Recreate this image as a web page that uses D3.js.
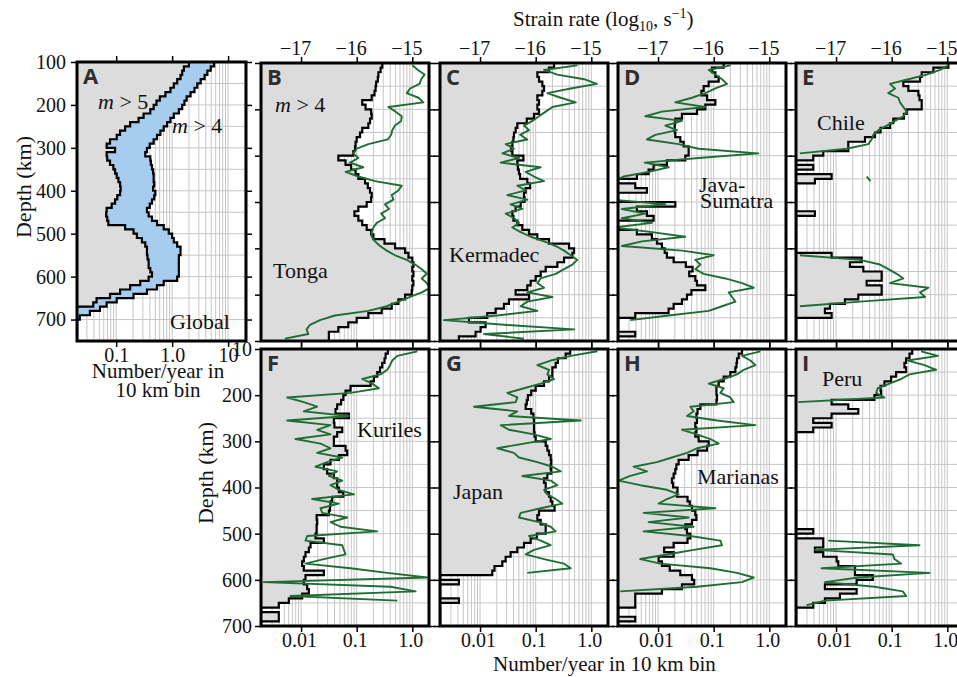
<!DOCTYPE html>
<html>
<head>
<meta charset="utf-8">
<script src="https://cdn.jsdelivr.net/npm/d3@7"></script>
<style>
  body { margin: 0; background: #fff; }
  svg { display: block; }
  text { font-family: "Liberation Serif", "Times New Roman", serif; fill: #111; }
</style>
</head>
<body>
<div id="chart"></div>
<script>
// ---- data: log10(number / year) per 10 km bin (null = empty bin) and log10 strain rate (s^-1) ----
const binTops = d3.range(100, 700, 10);        // panels B–I
const binTopsGlobal = d3.range(100, 750, 10);  // panel A
const strainDepths = binTops.map(d => d + 5);

const depthTicks = [100, 200, 300, 400, 500, 600, 700];
const depthLabelsTop = ["100", "200", "300", "400", "500", "600", "700"];
const depthLabelsLower = ["10", "200", "300", "400", "500", "600", "700"];
const rateTicks = [-2, -1, 0];
const rateTickLabels = ["0.01", "0.1", "1.0"];
const rateTicksGlobal = [-1, 0, 1];
const rateTickLabelsGlobal = ["0.1", "1.0", "10"];
const strainTicks = [-17, -16, -15];
const strainTickLabels = ["\u221217", "\u221216", "\u221215"];

const globalM5 = [
  0.30,0.21,0.18,0.15,0.09,0.03,-0.03,-0.12,-0.22,-0.28,
  -0.33,-0.39,-0.51,-0.60,-0.75,-0.84,-0.93,-0.99,-1.11,-1.17,
  -1.02,-1.17,-1.16,-1.11,-1.05,-1.02,-0.99,-0.96,-0.93,-0.92,
  -0.93,-0.98,-1.02,-1.08,-1.17,-1.18,-1.16,-1.14,-0.84,-0.69,
  -0.63,-0.54,-0.48,-0.45,-0.45,-0.44,-0.42,-0.42,-0.39,-0.36,
  -0.42,-0.57,-0.75,-0.93,-1.11,-1.35,-1.41,null,null,null,
  null,null,null,null,null];
const globalM4 = [
  0.75,0.69,0.63,0.58,0.51,0.45,0.40,0.33,0.26,0.22,
  0.18,0.12,0.03,-0.03,-0.09,-0.15,-0.21,-0.27,-0.33,-0.40,
  -0.45,-0.48,-0.39,-0.38,-0.36,-0.34,-0.33,-0.33,-0.32,-0.34,
  -0.30,-0.32,-0.36,-0.40,-0.45,-0.42,-0.36,-0.27,-0.15,-0.06,
  0.00,0.03,0.09,0.15,0.15,0.12,0.12,0.12,0.12,0.12,
  0.09,-0.15,-0.27,-0.45,-0.69,-0.99,-1.17,-1.29,-1.47,-1.65,
  null,null,null,null,null];

const tongaRate = [
  -0.54,-0.57,-0.61,-0.62,-0.65,-0.66,-0.68,-0.73,-0.90,-0.84,
  -0.74,-0.73,-0.76,-0.79,-0.90,-0.94,-1.00,-1.02,-1.03,-1.06,
  -1.33,-1.20,-1.10,-1.02,-0.97,-0.85,-0.80,-0.76,-0.73,-0.74,
  -0.82,-0.97,-1.04,-0.97,-0.90,-0.82,-0.74,-0.70,-0.50,-0.31,
  -0.13,-0.07,0.00,0.02,0.00,0.02,0.00,0.02,0.00,-0.01,
  -0.13,-0.25,-0.37,-0.55,-0.79,-1.00,-1.15,-1.33,-1.50,-1.50];
const tongaStrain = [
  -15.00,-14.90,-14.78,-14.84,-14.87,-15.04,-15.10,-14.89,-14.80,-15.43,
  -15.30,-15.19,-15.20,-15.31,-15.36,-15.38,-15.44,-15.79,-16.00,-16.06,
  -15.97,-16.12,-15.88,-16.20,-15.97,-15.67,-15.19,-15.25,-15.37,-15.34,
  -15.49,-15.42,-15.56,-15.49,-15.64,-15.70,-15.73,-15.73,-15.67,-15.58,
  -15.46,-15.31,-15.10,-14.95,-14.83,-14.74,-14.83,-14.74,-14.68,-14.83,
  -15.04,-15.25,-15.46,-15.79,-16.39,-16.66,-16.84,-16.90,-16.87,-17.29];

const kermadecRate = [
  -0.67,-0.76,-0.97,-0.94,-0.88,-0.85,-0.88,-0.97,-0.94,-0.97,
  -0.94,-1.03,-1.16,-1.33,-1.36,-1.39,-1.40,-1.42,-1.44,-1.42,
  -1.22,-1.33,-1.32,-1.30,-1.28,-1.15,-1.10,-1.18,-1.21,-1.20,
  -1.27,-1.36,-1.42,-1.40,-1.33,-1.24,-1.12,-0.97,-0.76,-0.40,
  -0.31,-0.34,-0.49,-0.61,-0.82,-0.91,-1.00,-1.09,-1.15,-1.36,
  -1.12,-1.48,-1.57,-1.72,-1.87,-2.20,-1.90,-1.99,-2.08,-2.38];
const kermadecStrain = [
  -15.25,-15.85,-15.61,-15.13,-14.90,-15.37,-15.79,-15.55,-15.28,-15.70,
  -15.82,-15.94,-16.06,-16.21,-16.12,-16.28,-16.15,-16.54,-16.39,-16.60,
  -16.30,-16.63,-15.91,-16.18,-16.03,-15.85,-16.33,-16.18,-16.51,-16.15,
  -16.45,-16.24,-16.54,-16.39,-16.30,-16.42,-16.27,-16.09,-15.85,-15.64,
  -15.49,-15.37,-15.25,-15.34,-15.49,-15.64,-15.91,-15.97,-15.85,-16.15,
  -15.70,-16.15,-16.27,-15.97,-16.69,-17.65,-16.57,-15.31,-16.93,-16.21];

const javaRate = [
  -0.82,-1.03,-0.97,-0.91,-1.09,-1.18,-1.22,-1.12,-0.97,-1.15,
  -1.30,-1.57,-1.69,-1.70,-1.70,-1.69,-1.60,-1.54,-1.45,-1.45,
  -1.51,-1.84,-2.08,-2.17,-2.38,null,-2.41,-2.20,null,null,
  -1.69,-2.38,-2.20,-2.08,null,null,-2.38,-2.11,-2.02,-1.93,
  -1.88,-1.84,-1.72,-1.50,-1.38,-1.44,-1.33,-1.30,-1.15,-1.40,
  -1.48,-1.57,-1.72,-1.81,-2.41,null,null,null,-2.41,null];
const javaStrain = [
  -15.70,-16.09,-15.97,-15.85,-15.76,-15.97,-16.15,-16.39,-16.69,-16.15,
  -16.93,-17.23,-16.57,-16.87,-16.66,-17.05,-17.20,-16.63,-16.27,-15.20,
  -16.27,-17.24,-16.81,-17.17,-17.62,-17.80,-17.80,-17.80,-17.80,-17.80,
  -16.87,-17.65,-17.23,-17.65,-17.11,-17.80,-17.11,-16.51,-17.29,-17.65,
  -16.57,-16.00,-16.33,-16.24,-16.33,-16.18,-15.79,-15.49,-15.28,-15.73,
  -15.67,-15.61,-15.85,-16.09,-16.81,-17.50,null,null,null,null];

const chileRate = [
  0.02,-0.25,-0.46,-0.49,-0.79,-0.70,-0.52,-0.50,-0.46,-0.46,
  -0.73,-0.78,-0.97,-1.03,-1.20,-1.30,-1.48,-1.78,-1.78,-2.23,
  -2.41,null,-2.41,null,-2.08,-2.38,null,null,null,null,
  null,null,-2.38,null,null,null,null,null,null,null,
  null,-2.08,-1.54,-1.75,-1.51,-1.18,-1.18,-1.45,-1.18,-1.18,
  -1.60,-1.84,-2.11,-2.20,-2.08,null,null,null,null,null];
const chileStrain = [
  -14.98,-15.13,-15.37,-15.70,-16.03,-15.94,-16.06,-15.88,-15.85,-15.79,
  -15.73,-15.79,-15.94,-16.09,-16.24,-16.33,-16.36,-16.42,-16.81,-17.65,
  null,null,null,null,-16.45,-16.38,null,null,null,null,
  null,null,null,null,null,null,null,null,null,null,
  null,-17.65,-16.57,-16.21,-16.06,-15.91,-15.79,-16.03,-15.34,-15.49,
  -15.40,-16.57,-17.65,null,null,null,null,null,null,null];

const kurilesRate = [
  -0.44,-0.48,-0.50,-0.54,-0.58,-0.63,-0.69,-0.75,-1.11,-1.20,
  -1.24,-1.28,-1.35,-1.38,-1.14,-1.41,-1.40,-1.26,-1.35,-1.41,
  -1.41,-1.20,-1.17,-1.32,-1.47,-1.59,-1.53,-1.41,-1.35,-1.35,
  -1.32,-1.24,-1.44,-1.47,-1.48,-1.50,-1.72,-1.71,-1.72,-1.72,
  -1.74,-1.59,-1.83,-1.86,-1.92,-1.95,-1.98,-1.95,-1.59,-1.92,
  -1.95,-1.89,-1.86,-1.98,-2.22,-2.40,null,-2.40,-2.40,null];
const kurilesStrain = [
  -14.91,-15.27,-15.36,-15.40,-15.45,-15.57,-15.90,-15.72,-15.60,-16.11,
  -17.25,-16.95,-16.71,-16.95,-16.14,-17.25,-16.47,-16.71,-16.47,-17.10,
  -16.65,-16.47,-16.71,-16.26,-16.53,-16.74,-16.35,-16.50,-16.26,-16.47,
  -16.32,-16.05,-16.80,-16.32,-16.65,-16.62,-16.17,-16.47,-16.29,-15.63,
  -16.89,-16.92,-16.26,-16.23,-16.20,-16.59,-16.92,-16.11,-15.45,-14.73,
  -17.67,-15.39,-14.94,-17.19,-15.27,null,null,null,null,null];

const japanRate = [
  -0.38,-0.46,-0.60,-0.64,-0.70,-0.70,-0.76,-0.85,-1.00,-1.08,
  -1.14,-1.16,-1.18,-1.08,-1.04,-1.03,-1.03,-1.03,-1.02,-1.00,
  -0.82,-0.79,-0.76,-0.73,-0.72,-0.73,-0.72,-0.79,-0.85,-0.82,
  -0.82,-0.76,-0.73,-0.70,-0.66,-0.94,-0.97,-0.91,-0.82,-0.82,
  -0.98,-1.09,-1.21,-1.33,-1.45,-1.54,-1.60,-1.74,-1.78,null,
  -2.38,null,null,null,-2.38,null,null,null,null,null];
const japanStrain = [
  -14.89,-15.37,-15.73,-15.97,-15.76,-15.79,-15.67,-15.91,-16.21,-16.51,
  -16.33,-16.36,-17.11,-16.33,-16.48,-15.19,-16.63,-16.48,-16.03,-15.73,
  -16.21,-16.69,-16.39,-16.30,-15.97,-15.70,-15.55,-16.24,-15.73,-15.61,
  -15.85,-15.79,-15.64,-15.52,-15.91,-16.27,-16.30,-15.94,-15.73,-15.64,
  -16.12,-15.91,-15.73,-16.03,-16.18,-15.85,-15.49,-15.37,-16.15,null,
  null,null,null,null,null,null,null,null,null,null];

const marianasRate = [
  -0.49,-0.55,-0.58,-0.59,-0.61,-0.70,-0.82,-0.91,-0.95,-0.95,
  -0.94,-0.95,-1.24,-1.29,-1.31,-1.30,-1.33,-1.31,-1.33,-1.27,
  -1.09,-1.12,-1.29,-1.45,-1.63,-1.67,-1.69,-1.72,-1.75,-1.73,
  -1.65,-1.66,-1.47,-1.43,-1.39,-1.33,-1.31,-1.39,-1.51,-1.48,
  -1.42,-1.47,-1.72,-1.89,-1.72,-1.99,-1.93,-1.79,-1.60,-1.39,
  -1.35,-1.57,-1.93,-2.41,-2.41,-2.41,null,null,-2.41,null];
const marianasStrain = [
  -15.16,-15.49,-15.34,-15.25,-15.46,-15.58,-15.82,-16.09,-15.82,-15.88,
  -15.70,-15.64,-16.42,-16.36,-16.48,-15.94,-15.25,-16.57,-16.30,-16.06,
  -15.91,-16.30,-16.48,-16.75,-17.02,-17.44,-17.20,-17.50,-17.71,-17.32,
  -16.84,-16.63,-16.84,-16.99,-15.97,-17.26,-16.45,-17.17,-16.36,-17.26,
  -16.42,-15.88,-15.85,-16.36,-16.84,-17.32,-16.96,-16.06,-15.58,-15.28,
  -15.49,-16.30,-17.68,null,null,null,null,null,null,null];

const peruRate = [
  -0.63,-0.68,-0.74,-0.77,-0.74,-0.92,-1.01,-1.13,-1.20,-1.19,
  -1.31,-2.08,-1.78,-1.60,-2.08,-2.41,-2.08,-2.41,null,null,
  null,null,null,null,null,null,null,null,null,null,
  null,null,null,null,null,null,null,null,null,-2.41,
  null,-2.23,-2.23,-2.38,-2.23,-1.99,-1.96,-1.66,-1.66,-1.34,
  -1.63,-2.20,-1.63,-1.93,-2.20,-2.41,null,null,null,null];
const peruStrain = [
  -15.47,-15.17,-15.71,-15.41,-15.20,-15.68,-15.83,-16.04,-16.25,-16.28,
  -16.13,-17.68,null,null,null,null,null,null,null,null,
  null,null,null,null,null,null,null,null,null,null,
  null,null,null,null,null,null,null,null,null,null,
  null,-17.14,-15.50,-17.38,-15.98,-15.95,-15.83,-17.26,-15.32,-16.60,
  -17.20,-16.31,-15.80,-15.74,-17.20,-17.53,null,null,null,null];

// ---- layout ----
const W = 957, H = 677;
const PW = 168;
const rateDomain = [-2.72, 0.30];
const rateDomainGlobal = [-1.70, 1.32];

const panels = [
  { letter: "B", rate: tongaRate, strain: tongaStrain, x: 261, y: 63, row: 0,
    labels: [{ t: "Tonga", dx: 12, dy: 215 }], mlabel: { dx: 14, dy: 49 } },
  { letter: "C", rate: kermadecRate, strain: kermadecStrain, x: 440, y: 63, row: 0,
    labels: [{ t: "Kermadec", dx: 9, dy: 199 }] },
  { letter: "D", rate: javaRate, strain: javaStrain, x: 618, y: 63, row: 0,
    labels: [{ t: "Java-", dx: 81, dy: 129 }, { t: "Sumatra", dx: 82, dy: 145 }] },
  { letter: "E", rate: chileRate, strain: chileStrain, x: 796, y: 63, row: 0,
    labels: [{ t: "Chile", dx: 21, dy: 67 }] },
  { letter: "F", rate: kurilesRate, strain: kurilesStrain, x: 261, y: 349, row: 1,
    labels: [{ t: "Kuriles", dx: 96, dy: 88 }] },
  { letter: "G", rate: japanRate, strain: japanStrain, x: 440, y: 349, row: 1,
    labels: [{ t: "Japan", dx: 13, dy: 150 }] },
  { letter: "H", rate: marianasRate, strain: marianasStrain, x: 618, y: 349, row: 1,
    labels: [{ t: "Marianas", dx: 79, dy: 135 }] },
  { letter: "I", rate: peruRate, strain: peruStrain, x: 796, y: 349, row: 1,
    labels: [{ t: "Peru", dx: 26, dy: 37 }] }
];

const GRAY = "#dcdcdc", BLUE = "#a6cdee", GREEN = "#1f6d34", GRID = "#c6c6c6";

const svg = d3.select("#chart").append("svg")
    .attr("width", W).attr("height", H)
    .attr("viewBox", `0 0 ${W} ${H}`);
const defs = svg.append("defs");

function stepPoints(vals, tops, x) {
  const pts = [];
  vals.forEach((v, i) => {
    const xv = v == null ? x.range()[0] : x(v);
    pts.push([xv, tops[i]], [xv, tops[i] + 10]);
  });
  return pts;
}

function frameAndGrid(id, x, y, px, py, pw, ph) {
  defs.append("clipPath").attr("id", id)
    .append("rect").attr("x", px).attr("y", py).attr("width", pw).attr("height", ph);
  const inner = svg.append("g").attr("clip-path", `url(#${id})`);
  inner.append("rect").attr("x", px).attr("y", py).attr("width", pw).attr("height", ph).attr("fill", "#fff");
  const dom = x.domain();
  const gx = [];
  for (let k = Math.floor(dom[0]); k <= Math.ceil(dom[1]); k++) {
    for (let m = 1; m < 10; m++) {
      const v = k + Math.log10(m);
      if (v > dom[0] && v < dom[1]) gx.push(v);
    }
  }
  inner.append("g").selectAll("line").data(gx).join("line")
    .attr("x1", d => x(d)).attr("x2", d => x(d))
    .attr("y1", py).attr("y2", py + ph)
    .attr("stroke", GRID).attr("stroke-width", 1);
  const gy = d3.range(y.domain()[0] + 50, y.domain()[1], 50);
  inner.append("g").selectAll("line").data(gy).join("line")
    .attr("x1", px).attr("x2", px + pw)
    .attr("y1", d => y(d)).attr("y2", d => y(d))
    .attr("stroke", GRID).attr("stroke-width", 1);
  return inner;
}

function styleAxis(g) {
  g.select(".domain").remove();
  g.attr("font-family", "\"Liberation Serif\", \"Times New Roman\", serif").attr("font-size", 20);
  g.selectAll(".tick line").attr("stroke", "#000").attr("stroke-width", 1.5);
  g.selectAll(".tick text").attr("fill", "#111");
}

function axes(x, y, px, py, pw, ph, opt) {
  const top = d3.axisTop(opt.topScale || x).tickValues(opt.topTicks).tickSize(6).tickPadding(2)
    .tickFormat((d, i) => opt.topLabels ? opt.topLabels[i] : "");
  const gt = svg.append("g").attr("transform", `translate(0,${py})`).call(top).call(styleAxis);
  if (opt.topShift) gt.selectAll(".tick text").attr("dx", opt.topShift);
  const bot = d3.axisBottom(x).tickValues(opt.botTicks).tickSize(6).tickPadding(1)
    .tickFormat((d, i) => opt.botLabels ? opt.botLabels[i] : "");
  const gb = svg.append("g").attr("transform", `translate(0,${py + ph})`).call(bot).call(styleAxis);
  if (opt.botShift) gb.selectAll(".tick text").attr("dx", opt.botShift);
  const left = d3.axisLeft(y).tickValues(depthTicks).tickSize(6).tickPadding(opt.leftPad || 3)
    .tickFormat((d, i) => opt.leftLabels ? opt.leftLabels[i] : "");
  svg.append("g").attr("transform", `translate(${px},0)`).call(left).call(styleAxis);
  const right = d3.axisRight(y).tickValues(depthTicks).tickSize(6).tickFormat("");
  svg.append("g").attr("transform", `translate(${px + pw},0)`).call(right).call(styleAxis);
}

function frame(px, py, pw, ph) {
  svg.append("rect").attr("x", px).attr("y", py).attr("width", pw).attr("height", ph)
    .attr("fill", "none").attr("stroke", "#000").attr("stroke-width", 3);
}

function panelLetter(t, px, py) {
  svg.append("text").attr("x", px + 6).attr("y", py + 22).text(t)
    .style("font-family", "\"Open Sans\", \"DejaVu Sans\", sans-serif")
    .style("font-weight", 700).style("font-size", "22px").style("fill", "#2e2e2e");
}

function mText(n, x, y) {
  const t = svg.append("text").attr("x", x).attr("y", y).style("font-size", "22px");
  t.append("tspan").style("font-style", "italic").text("m");
  t.append("tspan").text(" > " + n);
}

// ---- panel A (global) ----
{
  const px = 77, py = 62, pw = 169, ph = 279;
  const x = d3.scaleLinear().domain(rateDomainGlobal).range([px, px + pw]);
  const y = d3.scaleLinear().domain([100, 750]).range([py, py + ph]);
  const inner = frameAndGrid("clipA", x, y, px, py, pw, ph);
  const p5 = stepPoints(globalM5, binTopsGlobal, x).map(([a, b]) => [a, y(b)]);
  const p4 = stepPoints(globalM4, binTopsGlobal, x).map(([a, b]) => [a, y(b)]);
  const band = p4.map((p, i) => ({ y: p[1], x0: p5[i][0], x1: p[0] }));
  inner.append("path").datum(band)
    .attr("d", d3.area().y(d => d.y).x0(d => d.x0).x1(d => d.x1))
    .attr("fill", BLUE);
  inner.append("path").datum(p5)
    .attr("d", d3.area().y(d => d[1]).x0(px).x1(d => d[0]))
    .attr("fill", GRAY);
  [p5, p4].forEach(pts => inner.append("path").datum(pts)
    .attr("d", d3.line()).attr("fill", "none").attr("stroke", "#000").attr("stroke-width", 2.2));
  axes(x, y, px, py, pw, ph, {
    topTicks: rateTicksGlobal, botTicks: rateTicksGlobal, botLabels: rateTickLabelsGlobal,
    leftLabels: depthLabelsTop, leftPad: 5
  });
  frame(px, py, pw, ph);
  panelLetter("A", px, py);
  mText(5, 98, 109);
  mText(4, 172, 133);
  svg.append("text").attr("x", 170).attr("y", 329).style("font-size", "22px").text("Global");
  svg.append("text").attr("x", 158).attr("y", 378).attr("text-anchor", "middle").style("font-size", "21px").text("Number/year in");
  svg.append("text").attr("x", 158).attr("y", 397).attr("text-anchor", "middle").style("font-size", "21px").text("10 km bin");
}

// ---- panels B–I ----
panels.forEach(p => {
  const ph = p.row === 0 ? 278 : 277;
  const x = d3.scaleLinear().domain(rateDomain).range([p.x, p.x + PW]);
  const xs = d3.scaleLinear().domain(rateDomain.map(v => v - 15)).range([p.x, p.x + PW]);
  const y = d3.scaleLinear().domain([100, 700]).range([p.y, p.y + ph]);
  const inner = frameAndGrid("clip" + p.letter, x, y, p.x, p.y, PW, ph);
  const pts = stepPoints(p.rate, binTops, x).map(([a, b]) => [a, y(b)]);
  inner.append("path").datum(pts)
    .attr("d", d3.area().y(d => d[1]).x0(p.x).x1(d => d[0]))
    .attr("fill", GRAY);
  inner.append("path").datum(pts)
    .attr("d", d3.line()).attr("fill", "none").attr("stroke", "#000").attr("stroke-width", 2.2);
  const strainPts = p.strain.map((v, i) => ({ d: strainDepths[i], v }));
  inner.append("path").datum(strainPts)
    .attr("d", d3.line().defined(d => d.v != null).x(d => xs(d.v)).y(d => y(d.d)))
    .attr("fill", "none").attr("stroke", GREEN).attr("stroke-width", 1.9).attr("stroke-linejoin", "round");

  axes(x, y, p.x, p.y, PW, ph, {
    topScale: p.row === 0 ? xs : x,
    topTicks: p.row === 0 ? strainTicks : rateTicks,
    topLabels: p.row === 0 ? strainTickLabels : null,
    topShift: p.row === 0 ? -6 : 0,
    botTicks: rateTicks,
    botLabels: p.row === 1 ? rateTickLabels : null,
    botShift: p.row === 1 ? -2 : 0,
    leftLabels: p.letter === "F" ? depthLabelsLower : null
  });
  frame(p.x, p.y, PW, ph);
  panelLetter(p.letter, p.x, p.y);
  p.labels.forEach(l => svg.append("text").attr("x", p.x + l.dx).attr("y", p.y + l.dy)
    .style("font-size", "22px").text(l.t));
  if (p.mlabel) mText(4, p.x + p.mlabel.dx, p.y + p.mlabel.dy);
});

// ---- axis titles ----
{
  const t = svg.append("text").attr("x", 513).attr("y", 26).style("font-size", "21px");
  t.append("tspan").text("Strain rate (log");
  t.append("tspan").attr("dy", 5).style("font-size", "14px").text("10");
  t.append("tspan").attr("dy", -5).text(", s");
  t.append("tspan").attr("dy", -8).style("font-size", "14px").text("\u22121");
  t.append("tspan").attr("dy", 8).text(")");
}
svg.append("text").attr("x", 493).attr("y", 671).style("font-size", "21px").text("Number/year in 10 km bin");
svg.append("text").attr("transform", "translate(31,187) rotate(-90)").attr("text-anchor", "middle")
  .style("font-size", "22px").text("Depth (km)");
svg.append("text").attr("transform", "translate(213,473) rotate(-90)").attr("text-anchor", "middle")
  .style("font-size", "22px").text("Depth (km)");
</script>
</body>
</html>
